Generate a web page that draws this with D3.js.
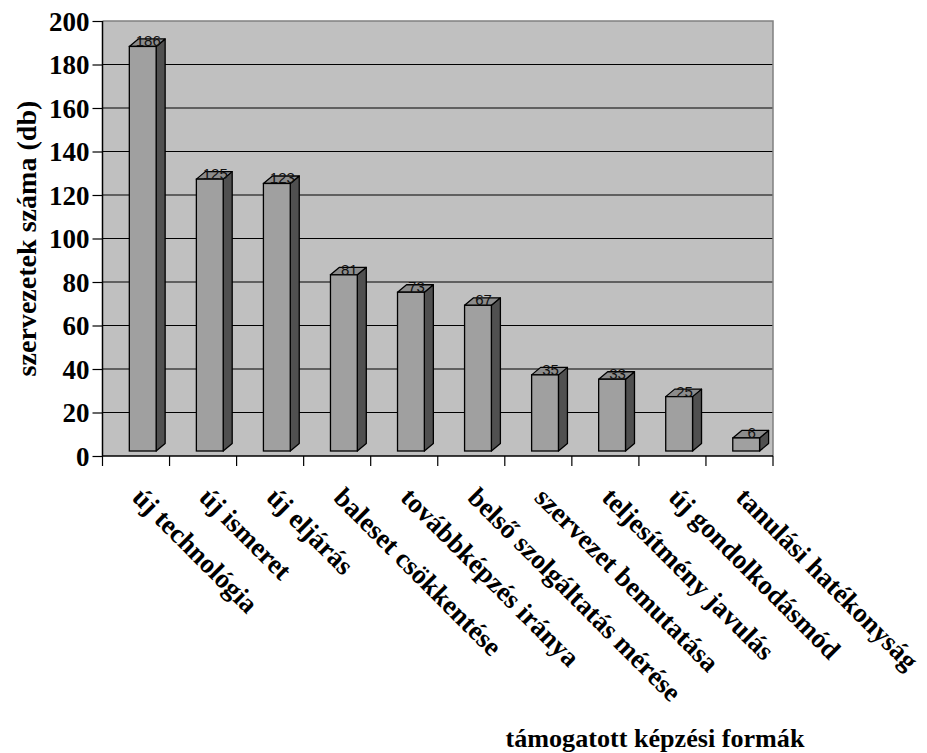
<!DOCTYPE html>
<html><head><meta charset="utf-8">
<script src="https://cdn.jsdelivr.net/npm/d3@7"></script>
<style>
html,body{margin:0;padding:0;background:#fff;}
svg{display:block;}
</style></head>
<body>
<svg id="chart" width="927" height="753"></svg>
<script>
const categories = ["új technológia","új ismeret","új eljárás","baleset csökkentése","továbbképzés iránya","belső szolgáltatás mérése","szervezet bemutatása","teljesítmény javulás","új gondolkodásmód","tanulási hatékonyság"];
const values = [186,125,123,81,73,67,35,33,25,6];
const yTicks = [0,20,40,60,80,100,120,140,160,180,200];
const yTitle = "szervezetek száma (db)";
const xTitle = "támogatott képzési formák";

const svg = d3.select("#chart");
const L = 102.5, R = 773, T = 21, B = 456;
const SERIF = "Liberation Serif";
const SANS = "Liberation Sans";

function fitSize(txt, target, base) {
  const t = svg.append("text").attr("font-family", SERIF).attr("font-weight", "bold")
    .attr("font-size", base).text(txt);
  const len = t.node().getComputedTextLength();
  t.remove();
  return len > 0 ? base * target / len : base;
}
const labelSize = fitSize(categories[0], 164, 27);
const yTitleSize = fitSize(yTitle, 276, 28);
const xTitleSize = fitSize(xTitle, 299, 26);

const x = d3.scaleBand().domain(categories).range([L, R]).paddingInner(0).paddingOuter(0);
const y = d3.scaleLinear().domain([0, 200]).range([B, T]);

svg.append("rect").attr("x", L).attr("y", T).attr("width", R - L).attr("height", B - T)
  .attr("fill", "#c0c0c0");

svg.append("g").selectAll("line").data(yTicks.filter(d => d > 0 && d < 200)).join("line")
  .attr("x1", L).attr("x2", R).attr("y1", d => y(d)).attr("y2", d => y(d))
  .attr("stroke", "#000").attr("stroke-width", 1);

svg.append("path").attr("d", `M${L},${T}H${R}V${B}`).attr("fill", "none")
  .attr("stroke", "#808080").attr("stroke-width", 1.5);

const dx = 9, dy = 7.5, lift = 5;
const bw = x.bandwidth() * 0.4;
const g = svg.append("g");
categories.forEach((c, i) => {
  const v = values[i];
  const x0 = x(c) + x.bandwidth() * 0.4;
  const x1 = x0 + bw;
  const yt = y(v) - lift, yb = y(0) - lift;
  g.append("path").attr("d", `M${x1},${yb}L${x1+dx},${yb-dy}L${x1+dx},${yt-dy}L${x1},${yt}Z`)
    .attr("fill", "#505050").attr("stroke", "#000").attr("stroke-width", 1.3).attr("stroke-linejoin", "round");
  g.append("path").attr("d", `M${x0},${yt}L${x0+dx},${yt-dy}L${x1+dx},${yt-dy}L${x1},${yt}Z`)
    .attr("fill", "#8c8c8c").attr("stroke", "#000").attr("stroke-width", 1.3).attr("stroke-linejoin", "round");
  g.append("rect").attr("x", x0).attr("y", yt).attr("width", bw).attr("height", yb - yt)
    .attr("fill", "#a0a0a0").attr("stroke", "#000").attr("stroke-width", 1.3);
  g.append("text").attr("font-family", SANS).attr("x", x0 + bw / 2 + 5.5).attr("y", yt)
    .attr("text-anchor", "middle").attr("font-size", 15)
    .attr("fill", "#111").text(v);
});

const yAxis = d3.axisLeft(y).tickValues(yTicks).tickSize(10).tickPadding(3).tickFormat(d3.format("d"));
const ya = svg.append("g").attr("transform", `translate(${L},0)`).call(yAxis);
ya.attr("font-family", SERIF).attr("font-size", 27);
ya.select(".domain").attr("d", `M0,${T}V${B}`).attr("stroke", "#000").attr("stroke-width", 1.5);
ya.selectAll(".tick line").attr("stroke", "#000").attr("stroke-width", 1.2);
ya.selectAll(".tick text").attr("font-family", SERIF).attr("font-weight", "bold").attr("font-size", 27)
  .attr("fill", "#000").attr("dy", "0.34em");

const xa = svg.append("g");
xa.append("line").attr("x1", L).attr("x2", R).attr("y1", B).attr("y2", B).attr("stroke", "#000").attr("stroke-width", 1.5);
const bounds = categories.map(c => x(c)).concat([R]);
xa.selectAll("line.tk").data(bounds).join("line").attr("class", "tk")
  .attr("x1", d => d).attr("x2", d => d).attr("y1", B).attr("y2", B + 10)
  .attr("stroke", "#000").attr("stroke-width", 1.2);

svg.append("g").selectAll("text").data(categories).join("text")
  .attr("font-family", SERIF).attr("font-weight", "bold")
  .attr("transform", d => `translate(${x(d) + x.bandwidth() / 2 - 5},${499}) rotate(45)`)
  .attr("font-size", labelSize).attr("fill", "#000")
  .text(d => d);

svg.append("text").attr("font-family", SERIF).attr("font-weight", "bold")
  .attr("transform", `translate(36,238.5) rotate(-90)`)
  .attr("text-anchor", "middle").attr("font-size", yTitleSize)
  .attr("fill", "#000").text(yTitle);
svg.append("text").attr("font-family", SERIF).attr("font-weight", "bold")
  .attr("x", 655).attr("y", 747)
  .attr("text-anchor", "middle").attr("font-size", xTitleSize)
  .attr("fill", "#000").text(xTitle);
</script>
</body></html>
